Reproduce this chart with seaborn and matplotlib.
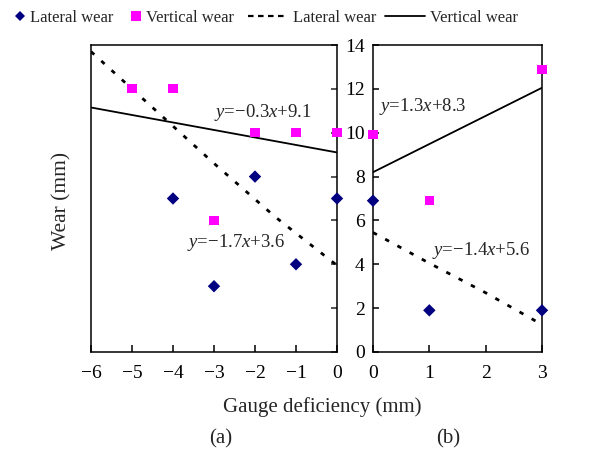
import matplotlib
matplotlib.use("Agg")
import matplotlib.pyplot as plt
import seaborn as sns
import pandas as pd
from matplotlib.lines import Line2D

# ---------------- data ----------------
# panel (a): gauge deficiency -6..0
a_lat_x = [-4, -3, -2, -1, 0]
a_lat_y = [7, 3, 8, 4, 7]
a_ver_x = [-5, -4, -3, -2, -1, 0]
a_ver_y = [12, 12, 6, 10, 10, 10]
a_latfit_x = [-6, -4.5, -3, -1.5, 0]
a_latfit_y = [13.7, 11.15, 8.6, 6.15, 3.95]
a_verfit_x = [-6, 0]
a_verfit_y = [11.15, 9.1]

# panel (b): gauge 0..3
b_lat_x = [0, 1, 3]
b_lat_y = [6.9, 1.9, 1.9]
b_ver_x = [0, 1, 3]
b_ver_y = [9.9, 6.9, 12.9]
b_latfit_x = [0, 1, 2, 3]
b_latfit_y = [5.45, 4.05, 2.7, 1.25]
b_verfit_x = [0, 3]
b_verfit_y = [8.2, 12.05]

a_xticks = [-6, -5, -4, -3, -2, -1, 0]
b_xticks = [0, 1, 2, 3]
yticks = [0, 2, 4, 6, 8, 10, 12, 14]

eq_a_ver = r"$y$=−0.3$x$+9.1"
eq_a_lat = r"$y$=−1.7$x$+3.6"
eq_b_ver = r"$y$=1.3$x$+8.3"
eq_b_lat = r"$y$=−1.4$x$+5.6"

NAVY = "#000080"
MAG = "#FF00FF"

sns.set_theme(style="white")
plt.rcParams["font.family"] = ["Liberation Serif", "DejaVu Serif"]
plt.rcParams["mathtext.fontset"] = "custom"
plt.rcParams["mathtext.it"] = "Liberation Serif:italic"
plt.rcParams["mathtext.rm"] = "Liberation Serif"
plt.rcParams["axes.unicode_minus"] = True

W, H = 594, 451
fig = plt.figure(figsize=(W / 100, H / 100), dpi=100)

def px_axes(l, t, r, b):
    return fig.add_axes([l / W, 1 - b / H, (r - l) / W, (b - t) / H])

axA = px_axes(91, 45, 337, 352)
axB = px_axes(373, 45, 542, 352)

DASH = (0, (1.6, 3.4))
LW_FIT = 2.0
MS_D = 40
MS_S = 42

def draw(ax, lx, ly, vx, vy, lfx, lfy, vfx, vfy):
    sns.lineplot(x=vfx, y=vfy, ax=ax, color="black", lw=1.3, estimator=None, sort=False)
    sns.lineplot(x=lfx, y=lfy, ax=ax, color="black", lw=LW_FIT, estimator=None, sort=False,
                 linestyle=DASH)
    sns.scatterplot(x=vx, y=vy, ax=ax, marker="s", s=MS_S, color=MAG, edgecolor="none",
                    linewidth=0, clip_on=False, zorder=5)
    sns.scatterplot(x=lx, y=ly, ax=ax, marker="D", s=MS_D, color=NAVY, edgecolor="none",
                    linewidth=0, clip_on=False, zorder=5)
    ax.set_ylim(0, 14)
    for sp in ax.spines.values():
        sp.set_visible(True)
        sp.set_color("black")
        sp.set_linewidth(1.1)
    ax.set_xlabel("")
    ax.set_ylabel("")

draw(axA, a_lat_x, a_lat_y, a_ver_x, a_ver_y, a_latfit_x, a_latfit_y, a_verfit_x, a_verfit_y)
draw(axB, b_lat_x, b_lat_y, b_ver_x, b_ver_y, b_latfit_x, b_latfit_y, b_verfit_x, b_verfit_y)

axA.set_xlim(-6, 0)
axA.set_xticks(a_xticks)
axA.set_xticklabels([f"{v}".replace("-", "−") for v in a_xticks])
axA.set_yticks(yticks)
axA.tick_params(axis="x", direction="in", length=5, width=1.1, bottom=True, top=False,
                labelsize=14, pad=9, colors="black")
axA.tick_params(axis="y", direction="in", length=4, width=1.1, left=False, right=True,
                labelleft=False, labelright=False)

axB.set_xlim(0, 3)
axB.set_xticks(b_xticks)
axB.set_xticklabels([str(v) for v in b_xticks])
axB.set_yticks(yticks)
axB.set_yticklabels([str(v) for v in yticks])
axB.tick_params(axis="x", direction="in", length=5, width=1.1, bottom=True, top=False,
                labelsize=14, pad=9, colors="black")
axB.tick_params(axis="y", direction="in", length=4, width=1.1, left=True, right=False,
                labelleft=True, labelsize=14, pad=6, colors="black")

# equations
axA.text(-3.0, 10.9, eq_a_ver, fontsize=13.5, ha="left", va="center")
axA.text(-3.65, 5.0, eq_a_lat, fontsize=13.5, ha="left", va="center")
axB.text(0.1, 11.2, eq_b_ver, fontsize=13.5, ha="left", va="center")
axB.text(1.05, 4.65, eq_b_lat, fontsize=13.5, ha="left", va="center")

# labels
fig.text(62 / W, 1 - 201 / H, "Wear (mm)", rotation=90, ha="center", va="center", fontsize=15.5)
fig.text(322 / W, 1 - 407 / H, "Gauge deficiency (mm)", ha="center", va="center", fontsize=15)
fig.text(221 / W, 1 - 439 / H, "(a)", ha="center", va="center", fontsize=15)
fig.text(448 / W, 1 - 439 / H, "(b)", ha="center", va="center", fontsize=15)

# legend (four single-entry legends placed along the top)
leg_items = [
    (Line2D([], [], marker="D", ls="none", color=NAVY, markersize=5.6, markeredgewidth=0),
     "Lateral wear", 13.3, 0.8, 0.2),
    (Line2D([], [], marker="s", ls="none", color=MAG, markersize=6.8, markeredgewidth=0),
     "Vertical wear", 129.3, 0.8, 0.2),
    (Line2D([], [], color="black", lw=1.6, linestyle=(0, (2.5, 2))),
     "Lateral wear", 248, 2.4, 0.3),
    (Line2D([], [], color="black", lw=1.3),
     "Vertical wear", 385, 2.4, 0.3),
]
for h, lab, xpx, hl, tp in leg_items:
    fig.legend([h], [lab], loc="center left", bbox_to_anchor=(xpx / W, 1 - 18 / H),
               frameon=False, fontsize=12, handlelength=hl, handletextpad=tp,
               borderpad=0, borderaxespad=0)

fig.savefig("out.png", dpi=100)
